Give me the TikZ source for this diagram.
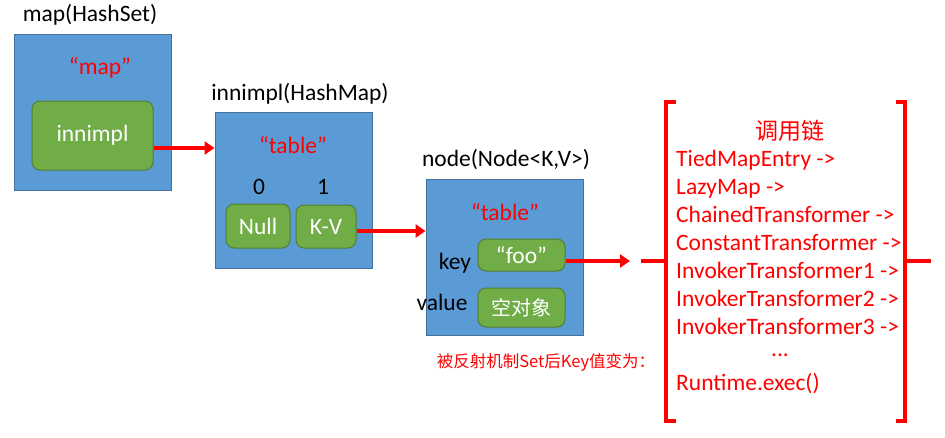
\documentclass[tikz,border=0pt]{standalone}
\usepackage{fontspec}
\setmainfont{Carlito}
\newfontfamily\cjk{Noto Sans CJK SC}
\usetikzlibrary{arrows.meta}
\definecolor{boxblue}{HTML}{5B9BD5}
\definecolor{boxedge}{HTML}{41719C}
\definecolor{fieldgreen}{HTML}{70AD47}
\definecolor{fieldedge}{HTML}{507E32}
\tikzset{
  objbox/.style={draw=boxedge, fill=boxblue, line width=1pt, minimum width=157pt, minimum height=156pt, inner sep=0pt},
  field/.style={draw=fieldedge, fill=fieldgreen, rounded corners=8pt, line width=1pt, inner sep=0pt, text=white, font=\fontsize{23.5}{28}\selectfont},
  lbl/.style={inner sep=0pt, font=\fontsize{23.5}{28}\selectfont},
  redlbl/.style={lbl, text=red},
  chainline/.style={redlbl, anchor=base west},
  ref/.style={red, line width=3.5pt, -{Triangle[length=10pt,width=13pt]}},
  brace/.style={red, line width=4pt}
}
\begin{document}
\begin{tikzpicture}[x=1pt,y=-1pt]
\useasboundingbox (0,0) rectangle (945,437);
% HashSet
\node[lbl] (settitle) at (90,15) {map(HashSet)};
\node[objbox] (hashset) at (92.5,112) {};
\node[redlbl] (mapname) at (100,68) {“map”};
\node[field, minimum width=121pt, minimum height=69pt] (innimpl) at (92.5,135.5) {innimpl};
% HashMap
\node[lbl] (maptitle) at (300,94) {innimpl(HashMap)};
\node[objbox] (hashmap) at (293.5,190) {};
\node[redlbl] (tablename) at (293,145) {“table”};
\node[lbl] (idx0) at (259,187) {0};
\node[lbl] (idx1) at (323,187) {1};
\node[field, minimum width=64pt, minimum height=44pt] (null) at (258,226) {Null};
\node[field, minimum width=60pt, minimum height=43pt] (kv) at (326,226.5) {K-V};
% Node
\node[lbl] (nodetitle) at (506,160) {node(Node<K,V>)};
\node[objbox] (entry) at (504.5,257) {};
\node[redlbl] (tablename2) at (505,212) {“table”};
\node[lbl] (keylbl) at (455,263) {key};
\node[lbl] (valuelbl) at (442,302) {value};
\node[field, minimum width=87pt, minimum height=32pt] (foo) at (521.5,255) {“foo”};
\node[field, minimum width=87pt, minimum height=39pt, font=\cjk\fontsize{20}{24}\selectfont] (empty) at (521.5,307.5) {空对象};
\node[text=red, inner sep=0pt, font=\cjk\fontsize{16.5}{20}\selectfont] (note) at (546,362) {被反射机制Set后Key值变为：};
% arrows
\draw[ref] ([yshift=-12.5pt]innimpl.east) -- ([yshift=-12.5pt]innimpl.east -| hashmap.west);
\draw[ref] ([yshift=-4.5pt]kv.east) -- ([yshift=-4.5pt]kv.east -| entry.west);
\coordinate (chainin) at (630,261);
\draw[ref] ([yshift=-6pt]foo.east) -- (chainin);
% call chain
\coordinate (lstub) at (641,261);
\coordinate (rstub) at (931,261);
\draw[brace] (lstub) -- (666,261);
\draw[brace] (676,102) -- (666,102) -- (666,421) -- (676,421);
\draw[brace] (896,102) -- (905,102) -- (905,421) -- (896,421);
\draw[brace] (905,261) -- (rstub);
\node[text=red, inner sep=0pt, font=\cjk\fontsize{23}{28}\selectfont] (chaintitle) at (790,131) {调用链};
\node[chainline] (c1) at (676,166) {TiedMapEntry ->};
\node[chainline] (c2) at (676,194) {LazyMap ->};
\node[chainline] (c3) at (676,222) {ChainedTransformer ->};
\node[chainline] (c4) at (676,250) {ConstantTransformer ->};
\node[chainline] (c5) at (676,278) {InvokerTransformer1 ->};
\node[chainline] (c6) at (676,306) {InvokerTransformer2 ->};
\node[chainline] (c7) at (676,334) {InvokerTransformer3 ->};
\node[redlbl] (c8) at (780,355) {...};
\node[chainline] (c9) at (676,390) {Runtime.exec()};
\end{tikzpicture}
\end{document}
